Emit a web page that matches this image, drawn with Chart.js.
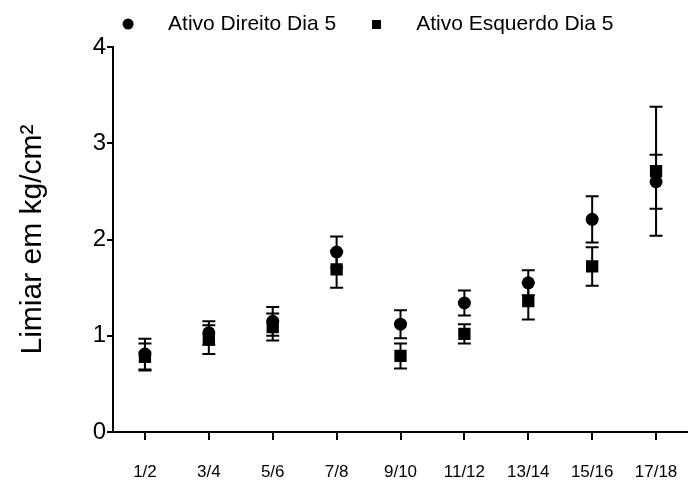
<!DOCTYPE html>
<html>
<head>
<meta charset="utf-8">
<script src="https://cdn.jsdelivr.net/npm/chart.js@4/dist/chart.umd.min.js"></script>
<style>
  html, body { margin: 0; padding: 0; background: #fff; }
  #wrap { width: 688px; height: 483px; }
</style>
</head>
<body>
<div id="wrap"><canvas id="c" width="688" height="483"></canvas></div>
<script>
const categories = ['1/2', '3/4', '5/6', '7/8', '9/10', '11/12', '13/14', '15/16', '17/18'];
const direitoMean = [0.81, 1.03, 1.15, 1.87, 1.12, 1.34, 1.55, 2.21, 2.60];
const direitoErr  = [0.16, 0.12, 0.15, 0.16, 0.145, 0.13, 0.13, 0.24, 0.28];
const esquerdoMean = [0.78, 0.96, 1.09, 1.69, 0.79, 1.02, 1.36, 1.72, 2.71];
const esquerdoErr  = [0.14, 0.15, 0.14, 0.19, 0.13, 0.10, 0.19, 0.20, 0.67];
const seriesNames = ['Ativo Direito Dia 5', 'Ativo Esquerdo Dia 5'];
const yTicks = [0, 1, 2, 3, 4];
const yTitle = 'Limiar em kg/cm\u00B2';

Chart.defaults.font.family = "'Liberation Sans', Arial, sans-serif";
Chart.defaults.color = '#000';

function legendMarker(kind) {
  const cv = document.createElement('canvas');
  const s = kind === 'circle' ? 12 : 9;
  cv.width = s; cv.height = s;
  const g = cv.getContext('2d');
  g.fillStyle = '#000';
  if (kind === 'circle') { g.beginPath(); g.arc(6, 6, 5.5, 0, Math.PI * 2); g.fill(); }
  else { g.fillRect(0, 0, 9, 9); }
  return cv;
}
const legendIcons = [legendMarker('circle'), legendMarker('rect')];

const errors = [direitoErr, esquerdoErr];

const errorBars = {
  id: 'errorBars',
  beforeDatasetsDraw(chart) {
    const ctx = chart.ctx;
    const xs = chart.scales.x, ys = chart.scales.y;
    ctx.save();
    ctx.strokeStyle = '#000';
    ctx.lineWidth = 2;
    chart.data.datasets.forEach((ds, di) => {
      ds.data.forEach((v, i) => {
        const e = errors[di][i];
        const x = xs.getPixelForValue(i);
        const yt = ys.getPixelForValue(v + e);
        const yb = ys.getPixelForValue(v - e);
        const hw = 6.5;
        ctx.beginPath();
        ctx.moveTo(x, yt); ctx.lineTo(x, yb);
        ctx.moveTo(x - hw, yt); ctx.lineTo(x + hw, yt);
        ctx.moveTo(x - hw, yb); ctx.lineTo(x + hw, yb);
        ctx.stroke();
      });
    });
    ctx.restore();
  }
};

const legendHeight = {
  id: 'legendHeight',
  beforeInit(chart) {
    const lg = chart.legend;
    if (!lg) return;
    const orig = lg.fit;
    lg.fit = function () { orig.call(this); this.height = 44; };
  }
};

new Chart(document.getElementById('c'), {
  type: 'line',
  data: {
    labels: categories,
    datasets: [
      {
        label: seriesNames[0], data: direitoMean, showLine: false,
        pointStyle: 'circle', pointRadius: 6.5, pointHoverRadius: 6.5,
        backgroundColor: '#000', borderColor: '#000', pointBorderWidth: 0
      },
      {
        label: seriesNames[1], data: esquerdoMean, showLine: false,
        pointStyle: 'rect', pointRadius: 8.7, pointHoverRadius: 8.7,
        backgroundColor: '#000', borderColor: '#000', pointBorderWidth: 0
      }
    ]
  },
  options: {
    responsive: false,
    animation: false,
    events: [],
    layout: { autoPadding: false, padding: { left: 24, right: 0, top: 3, bottom: 0 } },
    plugins: {
      tooltip: { enabled: false },
      legend: {
        position: 'top',
        labels: {
          usePointStyle: true,
          pointStyleWidth: 59,
          boxHeight: 21,
          padding: 10.5,
          color: '#000',
          font: { size: 21 },
          generateLabels(chart) {
            const items = Chart.defaults.plugins.legend.labels.generateLabels(chart);
            items.forEach((it, i) => { it.pointStyle = legendIcons[i]; });
            return items;
          }
        }
      }
    },
    scales: {
      x: {
        type: 'category',
        offset: true,
        afterFit(s) { s.height = 51; s.paddingLeft = 0; s.paddingRight = 0; },
        grid: { display: true, drawOnChartArea: false, drawTicks: true, offset: false, tickLength: 8, color: '#000', lineWidth: 2 },
        border: { display: true, color: '#000', width: 2 },
        ticks: { color: '#000', font: { size: 17, lineHeight: 3 }, padding: 6.5, maxRotation: 0, autoSkip: false }
      },
      y: {
        min: 0, max: 4,
        afterFit(s) { s.width = 89; },
        afterBuildTicks(s) { s.ticks = yTicks.map(v => ({ value: v })); },
        grid: { display: true, drawOnChartArea: false, drawTicks: true, tickLength: 6, color: '#000', lineWidth: 2 },
        border: { display: true, color: '#000', width: 2 },
        ticks: { color: '#000', font: { size: 24 }, padding: 1 },
        title: { display: true, text: yTitle, color: '#000', font: { size: 30, lineHeight: 1 }, padding: { top: -6, bottom: 0 } }
      }
    }
  },
  plugins: [errorBars, legendHeight]
});
</script>
</body>
</html>
